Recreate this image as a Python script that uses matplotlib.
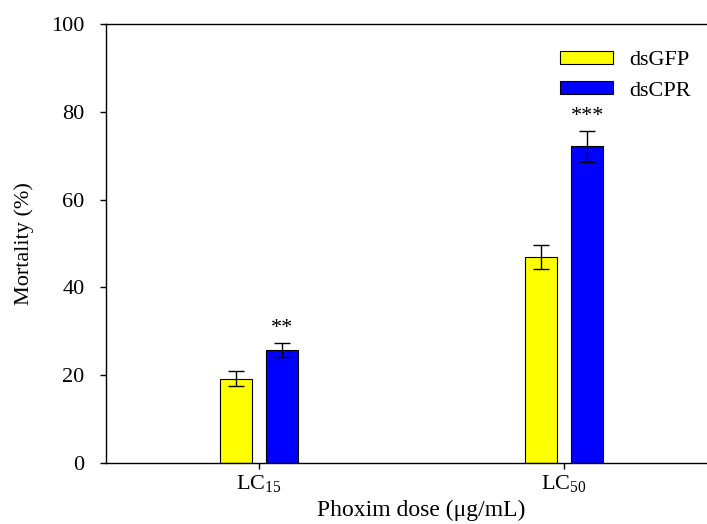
import numpy as np
import matplotlib.pyplot as plt

plt.rcParams['font.family'] = 'Liberation Serif'
plt.rcParams['mathtext.fontset'] = 'custom'
plt.rcParams['mathtext.rm'] = 'Liberation Serif'

groups = [r'LC$_{\mathrm{15}}$', r'LC$_{\mathrm{50}}$']
gfp = [19.2, 46.9]
gfp_err = [1.7, 2.8]
cpr = [25.8, 72.1]
cpr_err = [1.6, 3.6]
marks = ['**', '***']

fig = plt.figure(figsize=(7.07, 5.24), dpi=100)
ax = fig.add_axes([106 / 707, 61 / 524, 1 - 106 / 707, 439 / 524])

x = np.arange(len(groups))
w = 0.105
off = 0.075
ax.bar(x - off, gfp, w, yerr=gfp_err, color='#ffff00', edgecolor='black',
       linewidth=0.8, capsize=6, error_kw=dict(elinewidth=1, capthick=1),
       label='dsGFP')
ax.bar(x + off, cpr, w, yerr=cpr_err, color='#0000ff', edgecolor='black',
       linewidth=0.8, capsize=6, error_kw=dict(elinewidth=1, capthick=1),
       label='dsCPR')

# significance stars above dsCPR bars
for i in range(len(groups)):
    ax.text(x[i] + off, cpr[i] + cpr_err[i] + 1.0, marks[i], ha='center',
            va='bottom', fontsize=16)

ax.set_xlim(-0.502, 1.468)
ax.set_ylim(0, 100)
ax.set_xticks(x)
ax.set_xticklabels(groups, fontsize=16)
ax.set_yticks([0, 20, 40, 60, 80, 100])
ax.tick_params(axis='y', labelsize=16, direction='out', length=4.5, width=1, pad=11)
ax.tick_params(axis='x', direction='out', length=4.5, width=1, pad=3)
ax.spines['right'].set_visible(False)
for s in ['left', 'bottom', 'top']:
    ax.spines[s].set_linewidth(1)

ax.set_xlabel('Phoxim dose (\u03bcg/mL)', fontsize=17)
ax.xaxis.set_label_coords(0.524, -0.084)
ax.set_ylabel('Mortality (%)', fontsize=16, labelpad=12)

ax.legend(loc='upper left', bbox_to_anchor=(0.722, 0.984), frameon=False,
          fontsize=16, handlelength=2.4, handleheight=0.5, labelspacing=0.5,
          handletextpad=0.72)

fig.savefig('out.png', dpi=100)
